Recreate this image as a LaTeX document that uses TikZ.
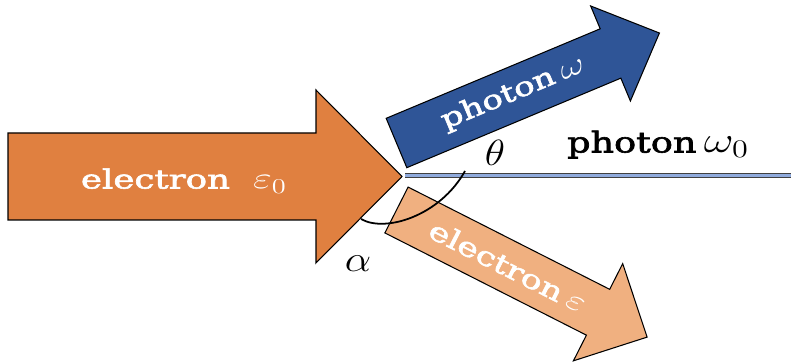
\documentclass[tikz,border=0pt]{standalone}
\usepackage{fontspec}
\setmainfont{DejaVu Serif}
\newfontfamily\slabfont{DejaVu Serif}[FakeBold=2]
\definecolor{elecorange}{HTML}{E08040}
\definecolor{eleclight}{HTML}{F0B080}
\definecolor{photonblue}{HTML}{2F5597}
\definecolor{beamblue}{HTML}{8FAADC}
\newcommand{\bigmath}[2]{{\fontsize{#1}{#1}\selectfont$#2$}}

\begin{document}
\begin{tikzpicture}[
x=0.02cm, y=-0.02cm,
arrowbody/.style={draw=black, line width=0.6pt, line join=miter},
inlabel/.style={text=white, font=\slabfont\fontsize{15}{18}\selectfont, inner sep=0pt},
outlabel/.style={text=black, font=\slabfont\fontsize{16.4}{19}\selectfont, inner sep=0pt},
mathlabel/.style={text=black, font=\fontsize{20}{24}\selectfont, inner sep=0pt},
beam/.style={draw=black!75, double=beamblue, double distance=2.2pt, line width=0.5pt},
anglearc/.style={draw=black, line width=1pt}
]
\useasboundingbox (0,0) rectangle (791,364);

% incoming electron
\draw[arrowbody, fill=elecorange] (8,133) -- (316,133) -- (316,90) -- (402,176.5) -- (316,263) -- (316,220) -- (8,220) -- cycle;
\node[inlabel, anchor=base, xscale=1.35] (ein) at (184,188.5) {electron\hspace{0.65em}\bigmath{17.5}{\varepsilon_0}};

% scattered photon
\begin{scope}[shift={(396.5,143)}, rotate=22.7]
\draw[arrowbody, fill=photonblue] (0,-26.75) -- (232,-26.75) -- (232,-51.5) -- (285,0) -- (232,51.5) -- (232,26.75) -- (0,26.75) -- cycle;
\node[inlabel, rotate=22.7, xscale=1.3] (phout) at (127,-1) {photon\hspace{0.2em}\bigmath{18.5}{\omega}};
\end{scope}

% scattered electron
\begin{scope}[shift={(396.5,210)}, rotate=-26.9]
\draw[arrowbody, fill=eleclight] (0,-25.7) -- (226,-25.7) -- (226,-54.5) -- (281,0) -- (226,54.5) -- (226,25.7) -- (0,25.7) -- cycle;
\node[inlabel, rotate=-26.9, xscale=1.33] (eout) at (125,0) {electron\hspace{0.2em}\bigmath{18.5}{\varepsilon}};
\end{scope}

% incoming photon
\coordinate (beamstart) at (405,175.5);
\coordinate (beamend) at (791,175.5);
\draw[beam] (beamstart) -- (beamend);
\node[outlabel, anchor=base, xscale=1.27] (phin) at (658,152.5) {photon\hspace{0.2em}\bigmath{21}{\omega_0}};

% angles
\coordinate (arcstart) at (361,219);
\coordinate (arcend) at (465,171);
\draw[anglearc] (arcstart) .. controls (385,233) and (440,216) .. (arcend);
\node[mathlabel, xscale=1.15] (theta) at (495,153) {$\theta$};
\node[mathlabel, xscale=1.15] (alpha) at (358,264) {$\alpha$};
\end{tikzpicture}
\end{document}
